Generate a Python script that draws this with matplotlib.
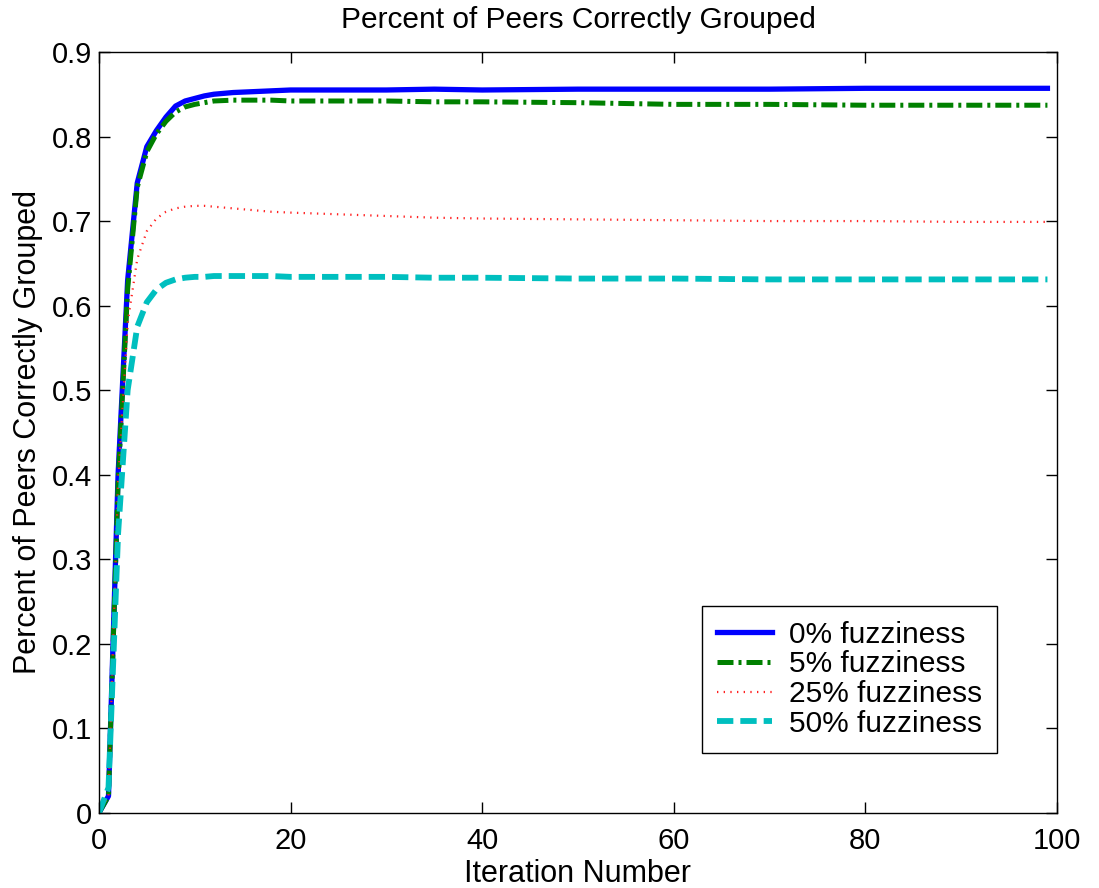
import matplotlib
matplotlib.use("Agg")
import matplotlib.pyplot as plt

plt.rcParams['font.family'] = ['Liberation Sans', 'DejaVu Sans']

# Iteration numbers at which each run was sampled
iterations = [0, 1, 2, 3, 4, 5, 6, 7, 8, 9, 10, 11, 12, 14, 16, 18, 20,
              25, 30, 35, 40, 50, 60, 70, 80, 90, 99]

fuzz_0 = [0.0, 0.02, 0.40, 0.63, 0.745, 0.788, 0.807, 0.823, 0.836, 0.842,
          0.845, 0.848, 0.850, 0.852, 0.853, 0.854, 0.855,
          0.855, 0.855, 0.856, 0.855, 0.856, 0.856, 0.856, 0.857, 0.857, 0.857]

fuzz_5 = [0.0, 0.02, 0.39, 0.62, 0.74, 0.782, 0.803, 0.818, 0.829, 0.835,
          0.838, 0.840, 0.842, 0.843, 0.843, 0.843, 0.842,
          0.842, 0.842, 0.841, 0.841, 0.840, 0.838, 0.838, 0.837, 0.837, 0.837]

fuzz_25 = [0.0, 0.02, 0.39, 0.58, 0.655, 0.688, 0.703, 0.711, 0.715, 0.717,
           0.718, 0.718, 0.717, 0.715, 0.713, 0.711, 0.710,
           0.708, 0.706, 0.704, 0.703, 0.702, 0.701, 0.700, 0.700, 0.699, 0.699]

fuzz_50 = [0.0, 0.03, 0.33, 0.50, 0.575, 0.604, 0.619, 0.627, 0.631, 0.633,
           0.634, 0.634, 0.635, 0.635, 0.635, 0.635, 0.634,
           0.634, 0.634, 0.633, 0.633, 0.632, 0.632, 0.631, 0.631, 0.631, 0.631]

labels = ['0% fuzziness', '5% fuzziness', '25% fuzziness', '50% fuzziness']

fig = plt.figure(figsize=(10.99, 8.88), dpi=100)
ax = fig.add_axes([0.090, 0.0845, 0.8718, 0.857])

ax.plot(iterations, fuzz_0, color='#0000ff', linestyle='-', linewidth=3.8, label=labels[0])
ax.plot(iterations, fuzz_5, color='#008000', linestyle=(0, (3.2, 1.0, 0.6, 1.0)), linewidth=3.6, label=labels[1])
ax.plot(iterations, fuzz_25, color='#ff2020', linestyle=(0, (0.6, 2.4)), linewidth=1.6, label=labels[2])
ax.plot(iterations, fuzz_50, color='#00bfbf', linestyle=(0, (2.8, 1.2)), linewidth=4.2, label=labels[3])

ax.set_xlim(0, 100)
ax.set_ylim(0, 0.9)
ax.set_xticks([0, 20, 40, 60, 80, 100])
ax.set_yticks([0, 0.1, 0.2, 0.3, 0.4, 0.5, 0.6, 0.7, 0.8, 0.9])
ax.set_yticklabels(['0', '0.1', '0.2', '0.3', '0.4', '0.5', '0.6', '0.7', '0.8', '0.9'])
ax.tick_params(direction='in', top=True, right=True, labelsize=21, length=8, width=1)
ax.tick_params(axis='x', pad=10)
ax.tick_params(axis='y', pad=5)
for s in ax.spines.values():
    s.set_linewidth(1.0)

ax.set_title('Percent of Peers Correctly Grouped', fontsize=21.5, pad=17)
ax.set_xlabel('Iteration Number', fontsize=22, labelpad=3)
ax.set_ylabel('Percent of Peers Correctly Grouped', fontsize=22, labelpad=6)

leg = ax.legend(loc='lower right', bbox_to_anchor=(0.937, 0.079), fontsize=21.5,
                frameon=True, fancybox=False, edgecolor='black', framealpha=1,
                handlelength=1.85, borderpad=0.5, labelspacing=0.06, handletextpad=0.55,
                borderaxespad=0)
leg.get_frame().set_linewidth(1.0)

fig.savefig('out.png', dpi=100)
